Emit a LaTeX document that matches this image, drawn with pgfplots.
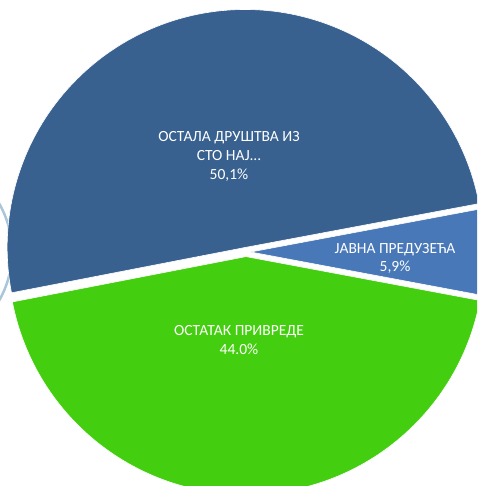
\documentclass[border=0pt]{standalone}
\usepackage{pgfplots}
\pgfplotsset{compat=1.18}
\usepackage{fontspec}
\setmainfont{Carlito}
\definecolor{bigblue}{HTML}{386190}
\definecolor{smallblue}{HTML}{4878B8}
\definecolor{pgreen}{HTML}{44CE10}
\definecolor{ringblue}{HTML}{8DB3CB}
\begin{document}
\begin{tikzpicture}
% data: percentages
\def\vJP{5.9}   % ЈАВНА ПРЕДУЗЕЋА
\def\vOP{44.0}  % ОСТАТАК ПРИВРЕДЕ
\def\vOD{50.1}  % ОСТАЛА ДРУШТВА ИЗ СТО НАЈ...
\def\R{238}
\def\cx{246}
\def\cy{234}
\def\ex{4.6}
\pgfmathsetmacro\sA{10.62}
\pgfmathsetmacro\aOneE{\sA}
\pgfmathsetmacro\aOneS{\sA-\vJP*3.6}
\pgfmathsetmacro\aTwoE{\aOneS}
\pgfmathsetmacro\aTwoS{\aOneS-\vOP*3.6}
\pgfmathsetmacro\aThrE{\aTwoS}
\pgfmathsetmacro\aThrS{\aTwoS-\vOD*3.6}
\pgfmathsetmacro\mOne{(\aOneS+\aOneE)/2}
\pgfmathsetmacro\mTwo{(\aTwoS+\aTwoE)/2}
\pgfmathsetmacro\mThr{(\aThrS+\aThrE)/2}
\pgfmathsetmacro\xOne{\cx+\ex*cos(\mOne)}
\pgfmathsetmacro\yOne{\cy+\ex*sin(\mOne)}
\pgfmathsetmacro\xTwo{\cx+\ex*cos(\mTwo)}
\pgfmathsetmacro\yTwo{\cy+\ex*sin(\mTwo)}
\pgfmathsetmacro\xThr{\cx+\ex*cos(\mThr)}
\pgfmathsetmacro\yThr{\cy+\ex*sin(\mThr)}
\begin{axis}[x=1pt,y=1pt,xmin=0,xmax=477,ymin=0,ymax=486,hide axis,clip=true]
\draw[color=ringblue,line width=2.5pt,opacity=0.75] (axis cs:-86,234) circle[radius=98];
\addplot[draw=white,line width=0.6pt,fill=smallblue,domain=\aOneS:\aOneE,samples=40]
  ({\xOne+\R*cos(x)},{\yOne+\R*sin(x)}) -- (axis cs:\xOne,\yOne) -- cycle;
\addplot[draw=white,line width=0.6pt,fill=pgreen,domain=\aTwoS:\aTwoE,samples=120]
  ({\xTwo+\R*cos(x)},{\yTwo+\R*sin(x)}) -- (axis cs:\xTwo,\yTwo) -- cycle;
\addplot[draw=white,line width=0.6pt,fill=bigblue,domain=\aThrS:\aThrE,samples=120]
  ({\xThr+\R*cos(x)},{\yThr+\R*sin(x)}) -- (axis cs:\xThr,\yThr) -- cycle;
\node[text=white,align=center,font=\fontsize{15.5}{19}\selectfont] at (axis cs:229,330) {ОСТАЛА ДРУШТВА ИЗ\\СТО НАЈ...\\50,1\%};
\node[text=white,align=center,font=\fontsize{15.5}{18}\selectfont] at (axis cs:395,228) {ЈАВНА ПРЕДУЗЕЋА\\5,9\%};
\node[text=white,align=center,font=\fontsize{15.5}{19}\selectfont] at (axis cs:239,146) {ОСТАТАК ПРИВРЕДЕ\\44.0\%};
\end{axis}
\pgfresetboundingbox
\path[use as bounding box] (current axis.south west) rectangle (current axis.north east);
\end{tikzpicture}
\end{document}
